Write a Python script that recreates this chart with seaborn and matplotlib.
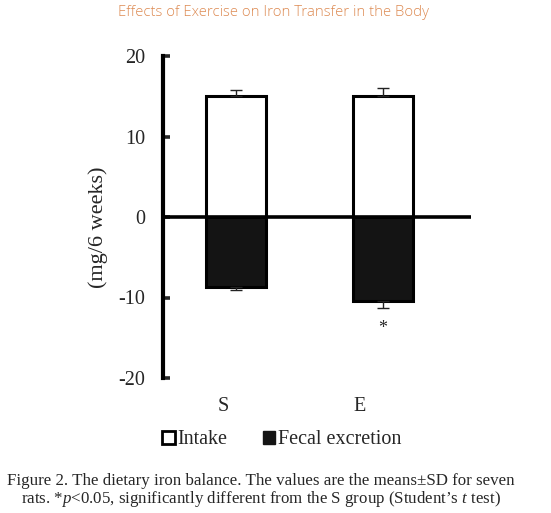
import matplotlib
matplotlib.use("Agg")
import matplotlib.pyplot as plt
from matplotlib.patches import Patch
import seaborn as sns
import pandas as pd
import numpy as np

groups = ["S", "E"]
intake = [15.0, 15.0]
intake_sd = [0.8, 1.0]
fecal = [-8.7, -10.4]
fecal_sd = [0.4, 0.9]
series = ["Intake", "Fecal excretion"]
yticks = [-20, -10, 0, 10, 20]

df = pd.DataFrame({
    "group": groups * 2,
    "measure": [series[0]] * 2 + [series[1]] * 2,
    "value": intake + fecal,
})

sns.set_theme(style="white")
plt.rcParams["font.family"] = ["Liberation Serif", "DejaVu Serif"]
plt.rcParams["mathtext.fontset"] = "custom"
plt.rcParams["mathtext.rm"] = "Liberation Serif"
plt.rcParams["mathtext.it"] = "Liberation Serif:italic"

fig = plt.figure(figsize=(5.51, 5.13), dpi=100)
W, H = 551, 513
ax = fig.add_axes([163 / W, 1 - 378 / H, (471 - 163) / W, (378 - 56) / H])

sns.barplot(data=df, x="group", y="value", hue="measure", order=groups,
            hue_order=series, palette={series[0]: "white", series[1]: "#141414"},
            dodge=False, width=0.41, edgecolor="black", linewidth=2.2,
            legend=False, ax=ax)

xpos = np.arange(len(groups))
ax.errorbar(xpos, intake, yerr=[np.zeros(2), intake_sd], fmt="none",
            ecolor="#222222", elinewidth=1.0, capsize=4, capthick=1.0, zorder=1)
ax.errorbar(xpos, fecal, yerr=[fecal_sd, np.zeros(2)], fmt="none",
            ecolor="#222222", elinewidth=1.0, capsize=4, capthick=1.0, zorder=1)

ax.axhline(0, color="black", linewidth=2.6, zorder=5)
ax.text(xpos[1], -13.8, "*", ha="center", va="center", fontsize=13)

ax.set_ylim(-20, 20)
ax.set_xlim(-0.497, 1.6)
ax.set_yticks(yticks)
ax.set_yticklabels([str(t) for t in yticks], fontsize=14.5)
# category labels sit slightly left of the bar centres in the reference
ax.set_xticks(xpos + np.array([-0.09, -0.16]))
ax.set_xticklabels(groups, fontsize=14.5)
ax.tick_params(axis="y", direction="in", length=5, width=2.6, pad=13, left=True)
ax.tick_params(axis="x", length=0, pad=14)
ax.set_xlabel("")
ax.set_ylabel("(mg/6 weeks)", fontsize=16)
ax.yaxis.set_label_coords(-0.178, 0.469)

for s in ["top", "right", "bottom"]:
    ax.spines[s].set_visible(False)
ax.spines["left"].set_linewidth(3.0)
ax.spines["left"].set_color("black")

handles = [Patch(facecolor="white", edgecolor="black", linewidth=2.0, label=series[0]),
           Patch(facecolor="#141414", edgecolor="#141414", label=series[1])]
fig.legend(handles=handles, loc="center", bbox_to_anchor=(282 / W, 1 - 440 / H),
           ncol=2, frameon=False, fontsize=14.5, handlelength=0.62, handleheight=0.62,
           handletextpad=0.15, columnspacing=1.75, borderaxespad=0)

fig.text(261 / W, 1 - 491 / H,
         "Figure 2. The dietary iron balance. The values are the means\u00b1SD for seven\n"
         "rats. *$p$<0.05, significantly different from the S group (Student\u2019s $t$ test)",
         ha="center", va="center", multialignment="center", fontsize=12.2,
         linespacing=0.95)

fig.text(274 / W, 1 - 13 / H, "Effects of Exercise on Iron Transfer in the Body",
         ha="center", va="center", fontsize=10.7, color="#DD8A52",
         family=["Open Sans", "DejaVu Sans"], fontweight="light")

fig.savefig("out.png", dpi=100)
